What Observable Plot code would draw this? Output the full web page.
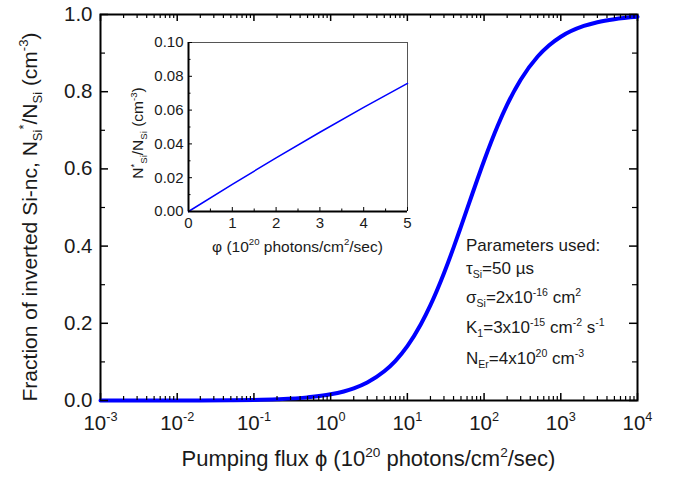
<!DOCTYPE html>
<html><head><meta charset="utf-8">
<script src="https://cdn.jsdelivr.net/npm/d3@7"></script>
<script src="https://cdn.jsdelivr.net/npm/@observablehq/plot@0.6"></script>
<style>
body{margin:0;background:#fff}
#wrap{position:relative;width:678px;height:477px}
#wrap svg{position:absolute;left:0;top:0}
</style>
</head><body><div id="wrap"></div>
<script>
// ---- data ----
const mainFlux = [0.001,0.002,0.005,0.01,0.02,0.05,0.1,0.2,0.5,1,2,3,5,7,10,15,20,30,40,50,70,100,150,200,300,500,700,1000,2000,3000,5000,10000];
const mainFraction = [0.0000,0.0000,0.0001,0.0002,0.0003,0.0008,0.0016,0.0033,0.0081,0.0161,0.0317,0.0469,0.0758,0.1029,0.1408,0.1974,0.2469,0.3297,0.3960,0.4505,0.5344,0.6211,0.7109,0.7663,0.8310,0.8913,0.9198,0.9425,0.9704,0.9801,0.9879,0.9939];
const insetFlux = [0,1,2,3,4,5];
const insetFraction = [0,0.0161,0.0317,0.0469,0.0616,0.0758];

const xMajor = [1e-3,1e-2,1e-1,1e0,1e1,1e2,1e3,1e4];
const xTickLabels = ["10^{-3}","10^{-2}","10^{-1}","10^{0}","10^{1}","10^{2}","10^{3}","10^{4}"];
const xMinor = [];
for (let e = -3; e < 4; e++) for (let k = 2; k <= 9; k++) xMinor.push(k * Math.pow(10, e));
const yMajor = [0,0.2,0.4,0.6,0.8,1.0];
const yTickLabels = ["0.0","0.2","0.4","0.6","0.8","1.0"];
const yMinor = [0.1,0.3,0.5,0.7,0.9];

const insetXMajor = [0,1,2,3,4,5];
const insetXLabels = ["0","1","2","3","4","5"];
const insetXMinor = [0.5,1.5,2.5,3.5,4.5];
const insetYMajor = [0,0.02,0.04,0.06,0.08,0.10];
const insetYLabels = ["0.00","0.02","0.04","0.06","0.08","0.10"];
const insetYMinor = [0.01,0.03,0.05,0.07,0.09];

const xTitle = "Pumping flux ϕ (10^{20} photons/cm^{2}/sec)";
const yTitle = "Fraction of inverted Si-nc, N_{Si}^{*}/N_{Si} (cm^{-3})";
const insetXTitle = "φ (10^{20} photons/cm^{2}/sec)";
const insetYTitle = "N^{*}_{Si}/N_{Si} (cm^{-3})";
const paramLines = ["Parameters used:","τ_{Si}=50 µs","σ_{Si}=2x10^{-16} cm^{2}","K_{1}=3x10^{-15} cm^{-2} s^{-1}","N_{Er}=4x10^{20} cm^{-3}"];

// ---- helpers ----
const FONT = "'Liberation Sans', Arial, Helvetica, sans-serif";
const INK = "#1a1a1a";
function rich(el, str, fs) {
  const t = d3.select(el);
  t.text(null);
  const re = /(\^|_)\{([^}]*)\}|([^\^_]+)/g;
  let cur = 0, m;
  while ((m = re.exec(str))) {
    let target, size, content;
    if (m[1]) { target = m[1] === "^" ? -0.42 * fs : 0.24 * fs; size = 0.62 * fs; content = m[2]; }
    else { target = 0; size = fs; content = m[3]; }
    const ts = t.append("tspan").attr("font-size", size).text(content);
    if (target !== cur) ts.attr("dy", target - cur);
    cur = target;
  }
}
function richAll(svg) {
  d3.select(svg).selectAll("text").each(function () {
    const s = this.textContent;
    if (s.includes("^{") || s.includes("_{")) {
      const fs = parseFloat(getComputedStyle(this).fontSize);
      rich(this, s, fs);
    }
  });
}

// ---- main chart ----
const W = 678, H = 477;
const mL = 100, mR = 41, mT = 14, mB = 77;
const iW = W - mL - mR, iH = H - mT - mB;
const mainData = mainFlux.map((f, i) => ({f, v: mainFraction[i]}));
const TICKFS = 20.5;

const main = Plot.plot({
  width: W, height: H,
  marginLeft: mL, marginRight: mR, marginTop: mT, marginBottom: mB,
  style: {fontFamily: FONT, fontSize: TICKFS + "px", color: INK, background: "white", overflow: "visible"},
  x: {type: "log", domain: [1e-3, 1e4], axis: null},
  y: {domain: [0, 1], axis: null},
  marks: [
    Plot.frame({stroke: "black", strokeWidth: 2}),
    Plot.line(mainData, {x: "f", y: "v", stroke: "#0000ff", strokeWidth: 4, curve: "monotone-x"}),
    Plot.tickX(xMajor, {x: d => d, insetTop: iH - 7, stroke: "black", strokeWidth: 1.5}),
    Plot.tickX(xMinor, {x: d => d, insetTop: iH - 4, stroke: "black", strokeWidth: 1.2}),
    Plot.tickX(xMajor, {x: d => d, insetBottom: iH - 7, stroke: "black", strokeWidth: 1.5}),
    Plot.tickX(xMinor, {x: d => d, insetBottom: iH - 4, stroke: "black", strokeWidth: 1.2}),
    Plot.tickY(yMajor, {y: d => d, insetRight: iW - 8, stroke: "black", strokeWidth: 1.5}),
    Plot.tickY(yMinor, {y: d => d, insetRight: iW - 5, stroke: "black", strokeWidth: 1.2}),
    Plot.tickY(yMajor, {y: d => d, insetLeft: iW - 8, stroke: "black", strokeWidth: 1.5}),
    Plot.tickY(yMinor, {y: d => d, insetLeft: iW - 5, stroke: "black", strokeWidth: 1.2}),
    Plot.text(xMajor, {x: d => d, text: (d, i) => xTickLabels[i], frameAnchor: "bottom", lineAnchor: "top", dy: 15, fill: INK, fontSize: TICKFS}),
    Plot.text(yMajor, {y: d => d, text: (d, i) => yTickLabels[i], frameAnchor: "left", textAnchor: "end", dx: -8, fill: INK, fontSize: TICKFS})
  ]
});

// ---- inset chart ----
const iL = 188, iR = W - 407, iTp = 42, iBt = H - 211;
const jW = W - iL - iR, jH = H - iTp - iBt;
const insetData = insetFlux.map((f, i) => ({f, v: insetFraction[i]}));
const INFS = 15;
const inset = Plot.plot({
  width: W, height: H,
  marginLeft: iL, marginRight: iR, marginTop: iTp, marginBottom: iBt,
  style: {fontFamily: FONT, fontSize: INFS + "px", color: INK, background: "transparent", overflow: "visible", pointerEvents: "none"},
  x: {domain: [0, 5], axis: null},
  y: {domain: [0, 0.1], axis: null},
  marks: [
    Plot.ruleX([5], {stroke: "#555", strokeWidth: 1}),
    Plot.ruleY([0.1], {stroke: "#555", strokeWidth: 1}),
    Plot.line(insetData, {x: "f", y: "v", stroke: "#0000ff", strokeWidth: 1.5}),
    Plot.ruleX([0], {stroke: "black", strokeWidth: 2}),
    Plot.ruleY([0], {stroke: "black", strokeWidth: 2}),
    Plot.tickX(insetXMajor, {x: d => d, insetTop: jH - 4, stroke: "black", strokeWidth: 1}),
    Plot.tickX(insetXMinor, {x: d => d, insetTop: jH - 2.5, stroke: "black", strokeWidth: 1}),
    Plot.tickY(insetYMajor, {y: d => d, insetRight: jW - 4, stroke: "black", strokeWidth: 1}),
    Plot.tickY(insetYMinor, {y: d => d, insetRight: jW - 2.5, stroke: "black", strokeWidth: 1}),
    Plot.text(insetXMajor, {x: d => d, text: (d, i) => insetXLabels[i], frameAnchor: "bottom", lineAnchor: "top", dy: 6, fill: INK, fontSize: INFS}),
    Plot.text(insetYMajor, {y: d => d, text: (d, i) => insetYLabels[i], frameAnchor: "left", textAnchor: "end", dx: -5, fill: INK, fontSize: INFS})
  ]
});

const wrap = document.getElementById("wrap");
wrap.appendChild(main);
wrap.appendChild(inset);

// titles and annotations
const ms = d3.select(main);
ms.append("text").attr("x", mL + iW / 2).attr("y", 466).attr("text-anchor", "middle")
  .attr("font-size", 22).attr("fill", INK).attr("font-family", FONT).text(xTitle);
ms.append("text").attr("transform", "translate(37,217) rotate(-90)").attr("text-anchor", "middle")
  .attr("font-size", 21).attr("fill", INK).attr("font-family", FONT).text(yTitle);
const baselines = [251, 274, 303, 333, 364];
paramLines.forEach((s, i) => {
  ms.append("text").attr("x", 466).attr("y", baselines[i]).attr("text-anchor", "start").attr("font-size", 17)
    .attr("fill", INK).attr("font-family", FONT).text(s);
});
const is = d3.select(inset);
is.append("text").attr("x", iL + jW / 2).attr("y", 252).attr("text-anchor", "middle")
  .attr("font-size", 15.5).attr("fill", INK).attr("font-family", FONT).text(insetXTitle);
is.append("text").attr("transform", "translate(143,133) rotate(-90)").attr("text-anchor", "middle")
  .attr("font-size", 15.5).attr("fill", INK).attr("font-family", FONT).text(insetYTitle);

richAll(main);
richAll(inset);
</script></body></html>
